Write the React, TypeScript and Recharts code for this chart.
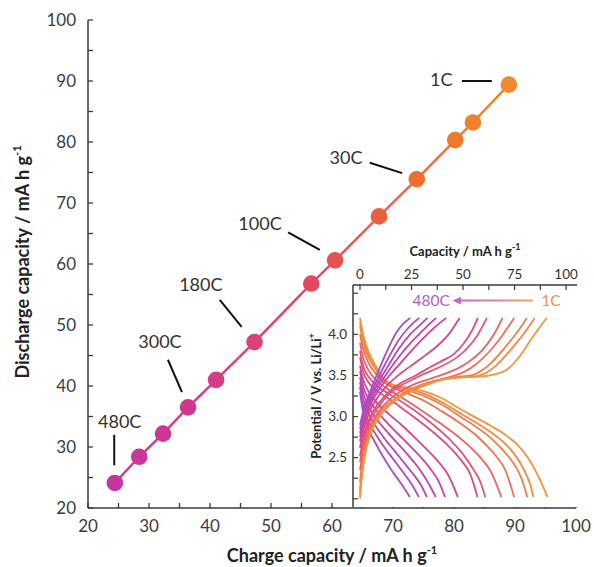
import React from 'react';
import {
  ScatterChart,
  Scatter,
  LineChart,
  Line,
  XAxis,
  YAxis,
  ReferenceLine,
  ReferenceDot,
  CartesianGrid,
} from 'recharts';

const FONT = 'Lato, "Noto Sans", sans-serif';

// main panel, one point per C-rate, 480C (left) ... 1C (right)
const CHARGE_CAP = [24.4, 28.4, 32.3, 36.4, 41.0, 47.3, 56.6, 60.5, 67.7, 73.9, 80.2, 83.1, 89.0];
const DISCHARGE_CAP = [24.1, 28.4, 32.2, 36.5, 41.0, 47.2, 56.8, 60.6, 67.8, 73.9, 80.3, 83.2, 89.4];
const MAIN_TICKS = [20, 25, 30, 35, 40, 45, 50, 55, 60, 65, 70, 75, 80, 85, 90, 95, 100];

const RATE_LABELS = ['480C', '300C', '180C', '100C', '30C', '1C'];
const LABEL_AT = [
  [25.2, 34.1],
  [31.8, 47.2],
  [38.5, 56.7],
  [48.2, 66.7],
  [62.3, 77.4],
  [77.9, 90.2],
];
const LEADERS = [
  [[24.3, 32.0], [24.3, 27.0]],
  [[33.1, 44.3], [35.4, 39.0]],
  [[41.6, 54.1], [45.2, 49.7]],
  [[52.8, 65.2], [58.0, 62.3]],
  [[66.2, 76.6], [71.5, 74.9]],
  [[81.3, 90.0], [86.2, 90.0]],
];

const POINT_COLORS = [
  '#c4369f', '#c83799', '#cb3893', '#cf398c', '#d53c84', '#dc4176', '#e2485f',
  '#e55255', '#e9603f', '#ec6e2f', '#ee7b2b', '#ef812b', '#ef8a2c',
];

// inset: voltage profiles, [capacity, potential], 480C ... 1C
const INSET_X_TICKS = [0, 12.5, 25, 37.5, 50, 62.5, 75, 87.5, 100];
const INSET_Y_TICKS = [2.0, 2.25, 2.5, 2.75, 3.0, 3.25, 3.5, 3.75, 4.0, 4.25, 4.5];

const CHARGE_CURVES = [
  [[0, 2.9], [2, 3.1], [4.7, 3.29], [8.7, 3.54], [12.8, 3.78], [17.6, 4.02], [21, 4.13], [24.4, 4.2]],
  [[0, 2.85], [2, 3.05], [5, 3.26], [9, 3.48], [13.5, 3.7], [18.5, 3.92], [23.5, 4.08], [28.8, 4.2]],
  [[0, 2.8], [2, 3.0], [5, 3.22], [9, 3.42], [14, 3.63], [19, 3.83], [24, 3.99], [28.5, 4.1], [32.8, 4.2]],
  [[0, 2.75], [2, 2.96], [5, 3.18], [9, 3.37], [14, 3.56], [19, 3.73], [24, 3.88], [29, 4.01], [33, 4.11], [37, 4.2]],
  [[0, 2.7], [2, 2.92], [5, 3.14], [9, 3.32], [14, 3.49], [20, 3.66], [26, 3.83], [31, 3.96], [36, 4.08], [41.8, 4.2]],
  [[0, 2.62], [2, 2.86], [5, 3.08], [9, 3.25], [14, 3.4], [20, 3.53], [26, 3.64], [32, 3.75], [38, 3.87], [43, 4.0], [48.3, 4.2]],
  [[0, 2.52], [2, 2.78], [5, 3.0], [9, 3.16], [14, 3.3], [20, 3.41], [27, 3.5], [34, 3.6], [40, 3.68], [45.5, 3.76], [50, 3.88], [54, 4.03], [57.2, 4.2]],
  [[0, 2.45], [2, 2.72], [5, 2.95], [9, 3.12], [14, 3.27], [20, 3.38], [27, 3.47], [34, 3.55], [41, 3.63], [47, 3.72], [52, 3.83], [57, 3.99], [61.6, 4.2]],
  [[0, 2.35], [2, 2.65], [5, 2.88], [9, 3.06], [14, 3.2], [20, 3.31], [27, 3.4], [34, 3.46], [41, 3.52], [47, 3.58], [53, 3.67], [59, 3.8], [64.5, 3.98], [69.2, 4.2]],
  [[0, 2.2], [1.2, 2.48], [3, 2.7], [6, 2.9], [10, 3.06], [16, 3.2], [23, 3.31], [31, 3.39], [39, 3.45], [46, 3.5], [51, 3.55], [56, 3.63], [62, 3.77], [68, 3.95], [74.8, 4.2]],
  [[0, 2.1], [1, 2.36], [2.5, 2.6], [5, 2.82], [9, 3.01], [14, 3.15], [21, 3.28], [29, 3.38], [37, 3.44], [46, 3.48], [54, 3.5], [59, 3.56], [64, 3.66], [70, 3.83], [75.5, 4.0], [81, 4.2]],
  [[0, 2.05], [1, 2.3], [2.5, 2.55], [5, 2.78], [9, 2.98], [14, 3.13], [21, 3.26], [29, 3.36], [37, 3.43], [46, 3.47], [56, 3.49], [61, 3.53], [66, 3.62], [72, 3.78], [78, 3.96], [84.8, 4.2]],
  [[0, 2.0], [0.8, 2.25], [2, 2.48], [4, 2.7], [7.5, 2.93], [12, 3.1], [18, 3.22], [26, 3.32], [34, 3.4], [42, 3.46], [52, 3.48], [60, 3.49], [64.7, 3.51], [71.2, 3.57], [77.7, 3.74], [84.1, 3.98], [90.6, 4.2]],
];

const DISCHARGE_CURVES = [
  [[0, 3.3], [1.5, 3.05], [4, 2.85], [7, 2.7], [11, 2.52], [15, 2.36], [19.5, 2.2], [24.2, 2.02]],
  [[0, 3.36], [1.5, 3.14], [4, 2.95], [8, 2.77], [12, 2.62], [16.5, 2.47], [21, 2.32], [25, 2.18], [28.6, 2.02]],
  [[0, 3.42], [1.5, 3.22], [4, 3.04], [8, 2.87], [12, 2.73], [16.5, 2.59], [21, 2.45], [25.5, 2.31], [29.5, 2.17], [32.5, 2.02]],
  [[0, 3.48], [1.5, 3.3], [4, 3.13], [8, 2.97], [13, 2.82], [18, 2.68], [23, 2.54], [28, 2.39], [32, 2.24], [36.8, 2.02]],
  [[0, 3.55], [1.5, 3.37], [4, 3.22], [8, 3.07], [13, 2.93], [18, 2.8], [24, 2.65], [29, 2.52], [34, 2.37], [38, 2.22], [41.3, 2.02]],
  [[0, 3.62], [1.5, 3.45], [4, 3.31], [8, 3.17], [14, 3.03], [20, 2.9], [26, 2.76], [32, 2.61], [38, 2.45], [43, 2.28], [47.5, 2.02]],
  [[0, 3.72], [1.5, 3.55], [4, 3.42], [9, 3.3], [15, 3.2], [22, 3.07], [29, 2.94], [36, 2.8], [43, 2.64], [49, 2.47], [53.5, 2.3], [57, 2.02]],
  [[0, 3.8], [1.5, 3.62], [4, 3.49], [9, 3.36], [15, 3.26], [22, 3.15], [30, 3.01], [37, 2.87], [44, 2.71], [50, 2.54], [55, 2.36], [58.5, 2.2], [60.8, 2.02]],
  [[0, 3.9], [1.5, 3.72], [4, 3.57], [8, 3.44], [13, 3.34], [19, 3.25], [26, 3.14], [33, 3.02], [40, 2.9], [47, 2.77], [53, 2.64], [58.5, 2.5], [63.5, 2.33], [68.6, 2.02]],
  [[0, 4.0], [1.5, 3.83], [4, 3.66], [8, 3.51], [12, 3.41], [17, 3.34], [24, 3.27], [32, 3.18], [40, 3.06], [48, 2.93], [55, 2.8], [61, 2.66], [66, 2.52], [70.5, 2.35], [74.8, 2.02]],
  [[0, 4.1], [1.5, 3.91], [4, 3.73], [8, 3.56], [12, 3.43], [16, 3.37], [24, 3.31], [32, 3.24], [40, 3.14], [48, 3.01], [56, 2.88], [63, 2.75], [69, 2.6], [74, 2.45], [78, 2.27], [81.2, 2.02]],
  [[0, 4.15], [1.5, 3.95], [4, 3.76], [8, 3.58], [12, 3.44], [16, 3.38], [24, 3.33], [32, 3.27], [40, 3.17], [48, 3.05], [56, 2.93], [64, 2.8], [70, 2.68], [75, 2.54], [79, 2.38], [82.2, 2.2], [84.2, 2.02]],
  [[0, 4.2], [1.5, 4.0], [4, 3.8], [8, 3.6], [12, 3.45], [16, 3.39], [24, 3.35], [32, 3.3], [40, 3.22], [48, 3.1], [56, 2.99], [64, 2.88], [71, 2.77], [77, 2.64], [82, 2.48], [86, 2.3], [89, 2.14], [91, 2.02]],
];

const INSET_COLORS = [
  '#a24fc9', '#ad4cc1', '#b848b6', '#c345aa', '#cd449e', '#d64692', '#df4c85',
  '#e55677', '#eb6367', '#ef7155', '#f27f49', '#f38942', '#f5943c',
];

// arrow "480C <- 1C" inside the inset, in inset data units
const ARROW_Y = 4.41;
const ARROW_FROM = 48.5;
const ARROW_TO = 84;
const ARROW_LABELS = [
  { text: '480C', x: 34.5, color: '#b55ec7' },
  { text: '1C', x: 92.7, color: '#f28e4e' },
];

const AXIS_COLOR = '#3a3a3a';

const mainData = CHARGE_CAP.map((x, i) => ({ x, y: DISCHARGE_CAP[i], i }));
const toPts = (curve: number[][]) => curve.map(([cap, v]) => ({ cap, v }));

function Dot(props: any) {
  const { cx, cy, payload } = props;
  return <circle cx={cx} cy={cy} r={8.3} fill={POINT_COLORS[payload.i]} />;
}

function MainChart() {
  const axisLine = { stroke: AXIS_COLOR, strokeWidth: 1.5 };
  const tickLine = { stroke: AXIS_COLOR, strokeWidth: 1.3 };
  const tickStyle = { fill: '#3c3c3c', fontSize: 17, fontFamily: FONT };
  const fmt = (v: number) => (v % 10 === 0 ? String(v) : '');
  return (
    <ScatterChart width={594} height={567} margin={{ top: 20, right: 18, bottom: 0, left: 0 }}>
      <defs>
        <linearGradient id="mainLine" x1="0" y1="1" x2="1" y2="0">
          <stop offset="0%" stopColor="#c8389c" />
          <stop offset="50%" stopColor="#e24a66" />
          <stop offset="100%" stopColor="#ef8a2c" />
        </linearGradient>
      </defs>
      <XAxis
        xAxisId="b"
        type="number"
        dataKey="x"
        domain={[20, 100]}
        allowDataOverflow
        ticks={MAIN_TICKS}
        interval={0}
        tickFormatter={fmt}
        height={59}
        tickSize={-5}
        tickMargin={17}
        axisLine={axisLine}
        tickLine={tickLine}
        tick={tickStyle}
      />
      <XAxis
        xAxisId="t"
        orientation="top"
        type="number"
        dataKey="x"
        domain={[20, 100]}
        allowDataOverflow
        ticks={MAIN_TICKS}
        interval={0}
        height={0}
        tickSize={-5}
        tick={false}
        axisLine={axisLine}
        tickLine={tickLine}
      />
      <YAxis
        yAxisId="l"
        type="number"
        dataKey="y"
        domain={[20, 100]}
        allowDataOverflow
        ticks={MAIN_TICKS}
        interval={0}
        tickFormatter={fmt}
        width={88}
        tickSize={-5}
        tickMargin={17}
        axisLine={axisLine}
        tickLine={tickLine}
        tick={tickStyle}
      />
      <YAxis
        yAxisId="r"
        orientation="right"
        type="number"
        dataKey="y"
        domain={[20, 100]}
        allowDataOverflow
        ticks={MAIN_TICKS}
        interval={0}
        width={0}
        tickSize={-5}
        tick={false}
        axisLine={axisLine}
        tickLine={tickLine}
      />
      {LEADERS.map((seg, k) => (
        <ReferenceLine
          key={'ld' + k}
          xAxisId="b"
          yAxisId="l"
          segment={[
            { x: seg[0][0], y: seg[0][1] },
            { x: seg[1][0], y: seg[1][1] },
          ]}
          stroke="#111"
          strokeWidth={2}
        />
      ))}
      {RATE_LABELS.map((t, k) => (
        <ReferenceDot
          key={'lb' + k}
          xAxisId="b"
          yAxisId="l"
          x={LABEL_AT[k][0]}
          y={LABEL_AT[k][1]}
          r={0}
          fill="none"
          stroke="none"
          label={{ value: t, position: 'center', fill: '#333', fontSize: 18, fontFamily: FONT }}
        />
      ))}
      <Scatter
        xAxisId="b"
        yAxisId="l"
        data={mainData}
        line={{ stroke: 'url(#mainLine)', strokeWidth: 2.5 }}
        shape={Dot}
        isAnimationActive={false}
      />
    </ScatterChart>
  );
}

function InsetChart() {
  const axisLine = { stroke: AXIS_COLOR, strokeWidth: 1.5 };
  const tickLine = { stroke: AXIS_COLOR, strokeWidth: 1.2 };
  const tickStyle = { fill: '#333', fontSize: 13.5, fontFamily: FONT };
  return (
    <LineChart width={304} height={337} margin={{ top: 0, right: 17, bottom: 60, left: 0 }}>
      <defs>
        <linearGradient id="arrowGrad" gradientUnits="userSpaceOnUse" x1="170" y1="0" x2="243" y2="0">
          <stop offset="0%" stopColor="#c36ac9" />
          <stop offset="100%" stopColor="#f6a466" />
        </linearGradient>
        <marker id="arrowHead" markerWidth="8" markerHeight="8" refX="1" refY="4" orient="auto-start-reverse" markerUnits="userSpaceOnUse">
          <path d="M0,0 L8,4 L0,8 z" fill="#c36ac9" />
        </marker>
      </defs>
      <CartesianGrid xAxisId="t" yAxisId="l" fill="#fff" horizontal={false} vertical={false} />
      <XAxis
        xAxisId="t"
        orientation="top"
        type="number"
        dataKey="cap"
        domain={[-3.4, 105.3]}
        allowDataOverflow
        ticks={INSET_X_TICKS}
        interval={0}
        tickFormatter={(v: number) => (v % 25 === 0 ? String(v) : '')}
        height={55}
        tickSize={-5}
        tickMargin={11}
        axisLine={axisLine}
        tickLine={tickLine}
        tick={tickStyle}
      />
      <XAxis
        xAxisId="b"
        type="number"
        dataKey="cap"
        domain={[-3.4, 105.3]}
        allowDataOverflow
        ticks={INSET_X_TICKS}
        interval={0}
        height={0}
        tickSize={-5}
        tick={false}
        axisLine={axisLine}
        tickLine={tickLine}
      />
      <YAxis
        yAxisId="l"
        type="number"
        dataKey="v"
        domain={[1.9, 4.6]}
        allowDataOverflow
        ticks={INSET_Y_TICKS}
        interval={0}
        tickFormatter={(v: number) => (v >= 2.5 && v <= 4 && (v * 2) % 1 === 0 ? v.toFixed(1) : '')}
        width={63}
        tickSize={-5}
        tickMargin={11}
        axisLine={axisLine}
        tickLine={tickLine}
        tick={tickStyle}
      />
      <YAxis
        yAxisId="r"
        orientation="right"
        type="number"
        dataKey="v"
        domain={[1.9, 4.6]}
        allowDataOverflow
        ticks={INSET_Y_TICKS}
        interval={0}
        width={0}
        tickSize={-5}
        tick={false}
        axisLine={axisLine}
        tickLine={tickLine}
      />
      {DISCHARGE_CURVES.map((c, i) => (
        <Line
          key={'d' + i}
          xAxisId="t"
          yAxisId="l"
          data={toPts(c)}
          dataKey="v"
          type="monotone"
          stroke={INSET_COLORS[i]}
          strokeWidth={1.8}
          dot={false}
          isAnimationActive={false}
        />
      ))}
      {CHARGE_CURVES.map((c, i) => (
        <Line
          key={'c' + i}
          xAxisId="t"
          yAxisId="l"
          data={toPts(c)}
          dataKey="v"
          type="monotone"
          stroke={INSET_COLORS[i]}
          strokeWidth={1.8}
          dot={false}
          isAnimationActive={false}
        />
      ))}
      <ReferenceLine
        xAxisId="t"
        yAxisId="l"
        segment={[
          { x: ARROW_FROM, y: ARROW_Y },
          { x: ARROW_TO, y: ARROW_Y },
        ]}
        stroke="url(#arrowGrad)"
        strokeWidth={2}
        markerStart="url(#arrowHead)"
      />
      {ARROW_LABELS.map((l) => (
        <ReferenceDot
          key={l.text}
          xAxisId="t"
          yAxisId="l"
          x={l.x}
          y={ARROW_Y}
          r={0}
          fill="none"
          stroke="none"
          label={{ value: l.text, position: 'center', fill: l.color, fontSize: 15.5, fontFamily: FONT }}
        />
      ))}
    </LineChart>
  );
}

function Titles() {
  const sup = { fontSize: 11 };
  return (
    <svg width={594} height={567} style={{ position: 'absolute', left: 0, top: 0, pointerEvents: 'none' }}>
      <g fontFamily={FONT} fontWeight={700} fill="#222">
        <text x={332} y={562} fontSize={18} textAnchor="middle">
          Charge capacity / mA h g<tspan dy={-8} style={sup}>-1</tspan>
        </text>
        <text transform="translate(29,262) rotate(-90)" fontSize={18} textAnchor="middle">
          Discharge capacity / mA h g<tspan dy={-8} style={sup}>-1</tspan>
        </text>
        <text x={465} y={256} fontSize={13} textAnchor="middle">
          Capacity / mA h g<tspan dy={-6} style={{ fontSize: 9 }}>-1</tspan>
        </text>
        <text transform="translate(321,396) rotate(-90)" fontSize={13} textAnchor="middle">
          Potential / V vs. Li/Li<tspan dy={-6} style={{ fontSize: 9 }}>+</tspan>
        </text>
      </g>
    </svg>
  );
}

export default function App() {
  return (
    <div style={{ position: 'absolute', left: 0, top: 0, width: 594, height: 567, background: '#fff', fontFamily: FONT }}>
      <MainChart />
      <div style={{ position: 'absolute', left: 290, top: 230 }}>
        <InsetChart />
      </div>
      <Titles />
    </div>
  );
}
